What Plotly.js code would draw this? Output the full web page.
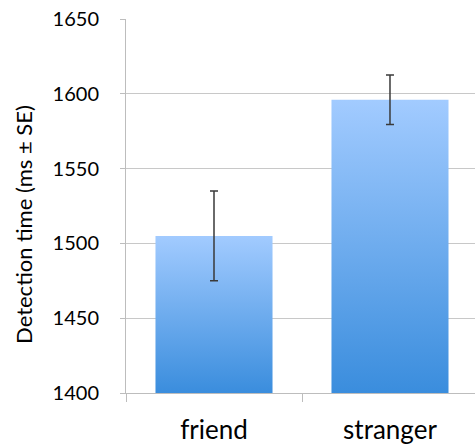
<!DOCTYPE html>
<html>
<head>
<meta charset="utf-8">
<script src="https://cdn.plot.ly/plotly-3.0.1.min.js"></script>
<style>html,body{margin:0;padding:0;background:#fff;}#chart{width:475px;height:446px;}</style>
</head>
<body>
<div id="chart"></div>
<script>
const categories = ["friend", "stranger"];
const detectionTime = [1505, 1596];
const standardError = [30, 16.5];
const yTicks = [1400, 1450, 1500, 1550, 1600, 1650];
const yTitle = "Detection time (ms ± SE)";

const trace = {
  type: "bar",
  x: categories,
  y: detectionTime,
  width: 0.665,
  marker: { color: "#6aa9ef", line: { width: 0 } },
  error_y: { type: "data", array: standardError, visible: true, color: "#3a3a3a", thickness: 1.5, width: 4 },
  hoverinfo: "none"
};

const layout = {
  width: 475, height: 446,
  margin: { l: 126, r: 0, t: 19, b: 53 },
  paper_bgcolor: "#fff", plot_bgcolor: "#fff",
  showlegend: false,
  font: { family: "Lato, 'Open Sans', sans-serif", color: "#000" },
  xaxis: {
    type: "category",
    range: [-0.5, 1.483],
    tickson: "boundaries",
    ticks: "outside", ticklen: 8, tickcolor: "#bdbdbd", tickwidth: 1,
    showline: true, linecolor: "#bdbdbd", linewidth: 1,
    showgrid: false, zeroline: false,
    tickfont: { size: 26, color: "#000" },
    ticklabelstandoff: 14
  },
  yaxis: {
    range: [1400, 1650],
    tickvals: yTicks,
    ticks: "outside", ticklen: 5, tickcolor: "#bdbdbd", tickwidth: 1,
    showline: true, linecolor: "#bdbdbd", linewidth: 1,
    showgrid: true, gridcolor: "#c8c8c8", gridwidth: 1,
    zeroline: false,
    tickfont: { size: 20, color: "#000" },
    ticklabelstandoff: 17
  },
  annotations: [{
    text: yTitle,
    textangle: -90,
    xref: "paper", yref: "paper",
    x: -0.2923, y: 0.452,
    xanchor: "center", yanchor: "middle",
    showarrow: false,
    font: { size: 22, color: "#000" }
  }]
};

Plotly.newPlot("chart", [trace], layout, { staticPlot: true }).then(gd => {
  const svg = gd.querySelector(".main-svg");
  const ns = "http://www.w3.org/2000/svg";
  let defs = svg.querySelector("defs");
  if (!defs) { defs = document.createElementNS(ns, "defs"); svg.insertBefore(defs, svg.firstChild); }
  const plotBottom = gd._fullLayout.yaxis._length;
  gd.querySelectorAll(".barlayer .point path").forEach((p, i) => {
    const bb = p.getBBox();
    const grad = document.createElementNS(ns, "linearGradient");
    grad.setAttribute("id", "barGrad" + i);
    grad.setAttribute("gradientUnits", "userSpaceOnUse");
    grad.setAttribute("x1", "0"); grad.setAttribute("y1", String(bb.y));
    grad.setAttribute("x2", "0"); grad.setAttribute("y2", String(plotBottom));
    [["0", "#a2cbff"], ["1", "#3a8ddd"]].forEach(([o, c]) => {
      const s = document.createElementNS(ns, "stop");
      s.setAttribute("offset", o); s.setAttribute("stop-color", c);
      grad.appendChild(s);
    });
    defs.appendChild(grad);
    p.style.fill = "url(#barGrad" + i + ")";
  });
});
</script>
</body>
</html>
